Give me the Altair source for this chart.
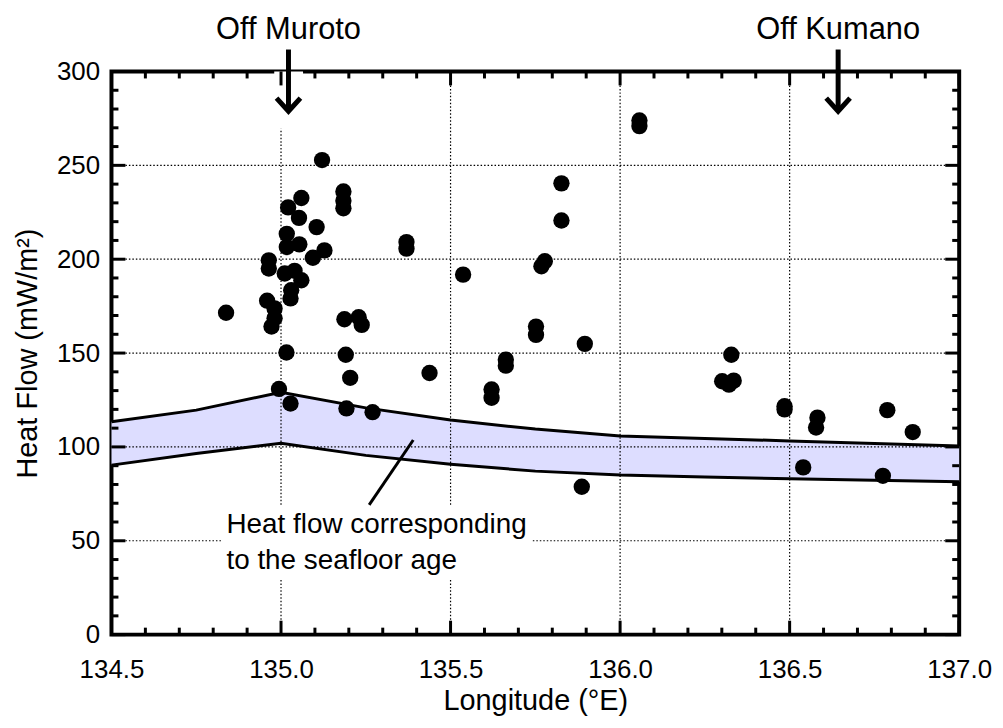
import altair as alt
import pandas as pd

# ---- data ----
lon = [135.121, 135.184, 135.184, 135.184, 135.060, 135.021, 135.053, 135.105,
       135.017, 135.054, 135.017, 135.128, 135.094, 135.370, 135.370, 134.964,
       134.964, 135.011, 135.040, 135.060, 135.030, 135.028, 134.959, 134.981,
       134.838, 134.981, 134.972, 135.187, 135.229, 135.238, 135.016, 135.191,
       135.204, 135.438, 134.994, 135.028, 135.193, 135.270, 136.057, 136.057,
       135.827, 135.827, 135.778, 135.768, 135.537, 135.752, 135.752, 135.896,
       135.663, 135.663, 135.621, 135.621, 135.887, 136.328, 136.301, 136.321,
       136.335, 136.485, 136.485, 136.582, 136.578, 136.788, 136.863, 136.540,
       136.775]
heat_flow = [252.8, 236.1, 231.2, 227.1, 232.6, 227.6, 222.0, 217.1,
             213.5, 207.9, 206.5, 204.7, 200.8, 209.1, 205.6, 199.4,
             195.0, 192.4, 193.8, 188.8, 183.5, 179.1, 177.9, 173.8,
             171.5, 168.5, 164.1, 168.0, 169.1, 165.0, 150.3, 149.1,
             136.8, 139.4, 130.9, 123.1, 120.5, 118.5, 273.9, 270.9,
             240.4, 220.6, 198.9, 196.2, 191.8, 164.1, 159.7, 154.9,
             146.5, 143.3, 130.6, 126.2, 78.8, 149.1, 135.0, 133.2,
             135.3, 121.7, 120.0, 115.6, 110.3, 119.6, 107.9, 89.1,
             84.6]

band_lon = [134.5, 134.75, 135.0, 135.25, 135.5, 135.75, 136.0, 136.25, 136.5, 137.0]
band_upper = [113.4, 119.6, 129.1, 120.8, 114.3, 109.5, 105.8, 104.5, 103.2, 100.5]
band_lower = [90.3, 96.5, 102.0, 95.5, 90.8, 87.1, 85.0, 84.0, 83.0, 81.5]

x_major = [134.5, 135.0, 135.5, 136.0, 136.5, 137.0]
x_minor = [134.6, 134.7, 134.8, 134.9, 135.1, 135.2, 135.3, 135.4, 135.6, 135.7,
           135.8, 135.9, 136.1, 136.2, 136.3, 136.4, 136.6, 136.7, 136.8, 136.9]
y_major = [0, 50, 100, 150, 200, 250, 300]
y_minor = [10, 20, 30, 40, 60, 70, 80, 90, 110, 120, 130, 140, 160, 170, 180, 190,
           210, 220, 230, 240, 260, 270, 280, 290]
x_grid = [135.0, 135.5, 136.0, 136.5]
y_grid = [50, 100, 150, 200, 250]

site_names = ["Off Muroto", "Off Kumano"]
site_lon = [135.022, 136.643]

note_text = ["Heat flow corresponding", "to the seafloor age"]

W, H = 852, 566
FONT = "Liberation Sans"

xs = alt.Scale(domain=[134.5, 137.0], nice=False, zero=False)
ys = alt.Scale(domain=[0, 300], nice=False, zero=False)

pts = pd.DataFrame({"lon": lon, "hf": heat_flow})
band = pd.DataFrame({"lon": band_lon, "up": band_upper, "lo": band_lower})

# band fill carries the labelled axes
area = alt.Chart(band).mark_area(color="#DDDDFF", opacity=1).encode(
    x=alt.X("lon:Q", scale=xs,
            axis=alt.Axis(title="Longitude (°E)", values=x_major, format=".1f",
                          labelPadding=22, titlePadding=4)),
    y=alt.Y("up:Q", scale=ys,
            axis=alt.Axis(title="Heat Flow (mW/m²)", values=y_major,
                          labelPadding=12, titlePadding=14)),
    y2="lo:Q",
)

grid_style = dict(color="black", strokeWidth=1.2, strokeDash=[1.5, 2])
gx = alt.Chart(pd.DataFrame({"v": x_grid})).mark_rule(**grid_style).encode(
    x=alt.X("v:Q", scale=xs))
gy = alt.Chart(pd.DataFrame({"v": y_grid})).mark_rule(**grid_style).encode(
    y=alt.Y("v:Q", scale=ys))

up_line = alt.Chart(band).mark_line(color="black", strokeWidth=3).encode(
    x=alt.X("lon:Q", scale=xs), y=alt.Y("up:Q", scale=ys))
lo_line = alt.Chart(band).mark_line(color="black", strokeWidth=3).encode(
    x=alt.X("lon:Q", scale=xs), y=alt.Y("lo:Q", scale=ys))

# white boxes that break the grid behind the annotation and the Muroto arrow
masks = pd.DataFrame({"x1": [134.824, 134.98], "x2": [135.74, 135.065],
                      "y1": [29.9, 269.5], "y2": [68.6, 300]})
mask = alt.Chart(masks).mark_rect(color="white").encode(
    x=alt.X("x1:Q", scale=xs), x2="x2:Q",
    y=alt.Y("y1:Q", scale=ys), y2="y2:Q")

# inward ticks on all four sides
tk = dict(color="black", strokeWidth=3)
def xt(vals, y0, y1):
    return alt.Chart(pd.DataFrame({"v": vals})).mark_rule(**tk).encode(
        x=alt.X("v:Q", scale=xs), y=alt.value(y0), y2=alt.value(y1))
def yt(vals, x0, x1):
    return alt.Chart(pd.DataFrame({"v": vals})).mark_rule(**tk).encode(
        y=alt.Y("v:Q", scale=ys), x=alt.value(x0), x2=alt.value(x1))
ticks = [xt(x_major, H, H - 14), xt(x_minor, H, H - 7),
         xt(x_major, 0, 14), xt(x_minor, 0, 7),
         yt(y_major, 0, 14), yt(y_minor, 0, 7),
         yt(y_major, W, W - 14), yt(y_minor, W, W - 7)]

points = alt.Chart(pts).mark_circle(color="black", opacity=1, size=270).encode(
    x=alt.X("lon:Q", scale=xs), y=alt.Y("hf:Q", scale=ys))

# annotation leader line and text
lead = alt.Chart(pd.DataFrame({"x1": [135.260], "x2": [135.390],
                               "y1": [69.1], "y2": [103.7]})).mark_rule(
    color="black", strokeWidth=3).encode(
    x=alt.X("x1:Q", scale=xs), x2="x2:Q",
    y=alt.Y("y1:Q", scale=ys), y2="y2:Q")
note = alt.Chart(pd.DataFrame({"x": [134.839], "y": [54.3],
                               "t": ["\n".join(note_text)]})).mark_text(
    align="left", baseline="alphabetic", font=FONT, fontSize=28, color="black",
    lineBreak="\n", lineHeight=36).encode(
    x=alt.X("x:Q", scale=xs), y=alt.Y("y:Q", scale=ys),
    text="t:N")

sites = pd.DataFrame({"name": site_names, "lon": site_lon,
                      "top": [311.7, 311.7], "tip": [278.8, 278.8],
                      "ty": [317.5, 317.5]})
stem = alt.Chart(sites).mark_rule(color="black", strokeWidth=5, clip=False).encode(
    x=alt.X("lon:Q", scale=xs), y=alt.Y("top:Q", scale=ys),
    y2="tip:Q")
head = alt.Chart(sites).mark_point(
    shape="M-1,-1.1L0,0L1,-1.1", filled=False, color="black", strokeWidth=5,
    size=576, opacity=1, clip=False, strokeJoin="miter", strokeCap="butt").encode(
    x=alt.X("lon:Q", scale=xs), y=alt.Y("tip:Q", scale=ys))
labels = alt.Chart(sites).mark_text(
    font=FONT, fontSize=31, color="black", align="center", baseline="alphabetic",
    clip=False).encode(
    x=alt.X("lon:Q", scale=xs), y=alt.Y("ty:Q", scale=ys),
    text="name:N")

chart = alt.layer(area, gx, gy, up_line, lo_line, mask, *ticks, points,
                  lead, note, stem, head, labels).properties(
    width=W, height=H,
    autosize=alt.AutoSizeParams(type="none"),
    padding={"left": 104, "top": 62, "right": 36, "bottom": 86},
    background="white",
).configure_view(stroke="black", strokeWidth=4).configure_axis(
    ticks=False, tickSize=0, domain=False, grid=False, labelFlush=False,
    labelFont=FONT, labelFontSize=26, labelColor="black",
    titleFont=FONT, titleFontSize=29, titleFontWeight="normal", titleColor="black",
)

chart.save("out.html", embed_options={"renderer": "svg", "actions": False})
